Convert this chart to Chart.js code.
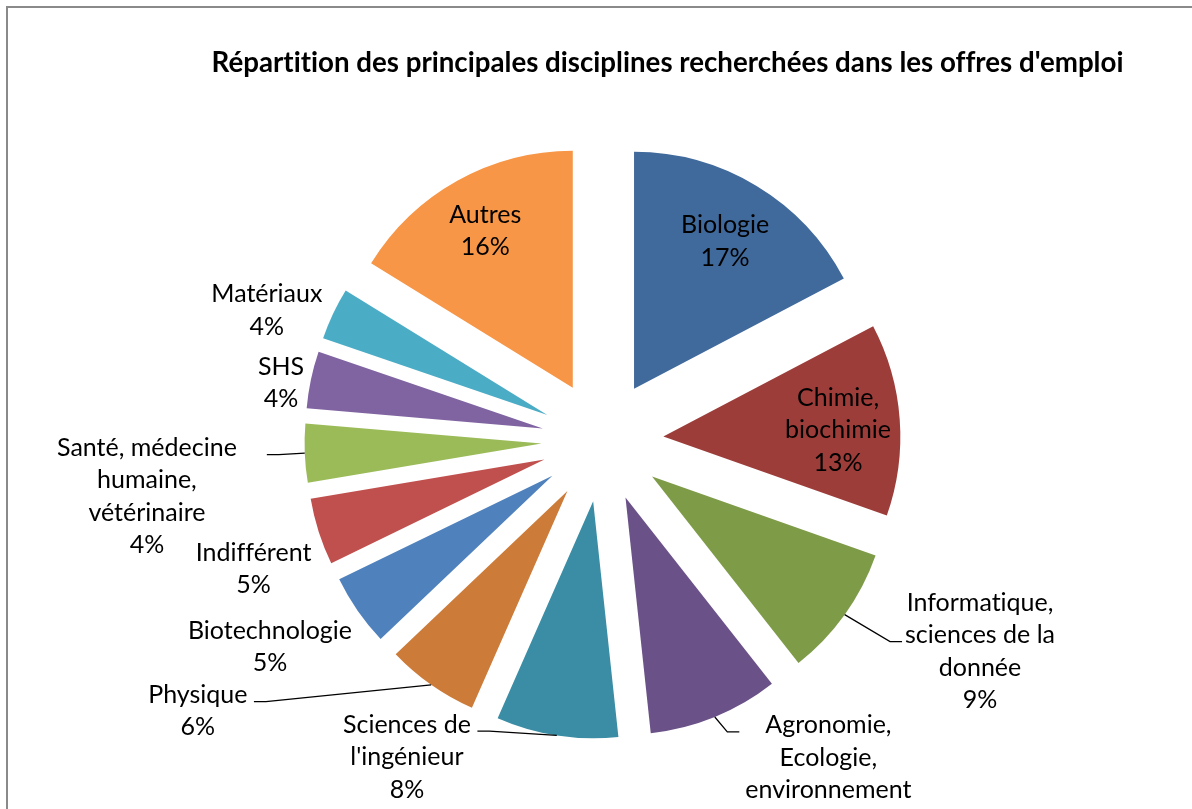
<!DOCTYPE html>
<html><head><meta charset="utf-8">
<script src="https://cdn.jsdelivr.net/npm/chart.js@4.4.1/dist/chart.umd.min.js"></script>
<style>html,body{margin:0;padding:0;background:#fff;overflow:hidden}</style>
</head><body>
<canvas id="c" width="1192" height="809"></canvas>
<script>
// ---- data ----
const titleText = "Répartition des principales disciplines recherchées dans les offres d'emploi";
const categories = [
  ["Biologie"],
  ["Chimie,", "biochimie"],
  ["Informatique,", "sciences de la", "donnée"],
  ["Agronomie,", "Ecologie,", "environnement"],
  ["Sciences de", "l'ingénieur"],
  ["Physique"],
  ["Biotechnologie"],
  ["Indifférent"],
  ["Santé, médecine", "humaine,", "vétérinaire"],
  ["SHS"],
  ["Matériaux"],
  ["Autres"]
];
const shares = [17.3, 13.1, 9.0, 8.9, 8.3, 6.3, 4.9, 4.55, 4.0, 3.9, 3.55, 16.2];

// ---- styles ----
const sliceColors = ["#40699C", "#9D3D3A", "#7E9B48", "#6A5187", "#3A8DA4", "#CD7B38",
                     "#4F81BD", "#C0504D", "#9BBB59", "#8064A2", "#4BACC6", "#F79646"];
const explodePx = 61;
const pieRadius = 237;
const labelFont = "Lato";
const labelSize = 25;
const lineGap = 32.6;
const titleSize = 27.7;
// label placement: [radius factor, angle shift in degrees] relative to slice bisector
const labelPlacement = [
  [0.992, 0.3], [0.995, 1.3], [1.822, -6.6], [1.694, -12.1], [1.565, 23.0], [2.050, 21.3],
  [1.648, 3.1], [1.567, -2.3], [1.936, -4.5], [1.379, -1.5], [1.521, -3.9], [1.019, 0.1]
];
// leader lines: side of label block (-1 left, 1 right), vertical offset from block centre, gap from text
const leaderLayout = [null, null, {side: -1, dy: -9, gap: 3}, {side: -1, dy: -41, gap: 6},
  {side: 1, dy: -25, gap: 6.5}, {side: 1, dy: -8.3, gap: 6.5}, null, null,
  {side: 1, dy: -41, gap: 30}, null, null, null];
const elbowLen = 12;

const frame = {
  id: 'frame',
  beforeDraw(chart) {
    const ctx = chart.ctx;
    ctx.save();
    ctx.fillStyle = '#fff';
    ctx.fillRect(0, 0, chart.width, chart.height);
    ctx.strokeStyle = '#8a8a8a';
    ctx.lineWidth = 2;
    ctx.strokeRect(7, 7, chart.width + 10, chart.height + 10);
    ctx.restore();
  },
  afterDraw(chart) {
    const ctx = chart.ctx;
    ctx.save();
    ctx.textRendering = 'optimizeSpeed';
    ctx.font = `bold ${titleSize}px ${labelFont}`;
    ctx.fillStyle = '#000';
    ctx.textAlign = 'center';
    ctx.textBaseline = 'alphabetic';
    ctx.fillText(titleText, 667.5, 71.7);
    ctx.restore();
  }
};

const explode = {
  id: 'explode',
  afterUpdate(chart) {
    chart.getDatasetMeta(0).data.forEach(arc => {
      if (arc._exploded) return;
      arc._exploded = true;
      const base = Object.getPrototypeOf(arc).draw;
      arc.draw = function (ctx, area) {
        const mid = (this.startAngle + this.endAngle) / 2;
        ctx.save();
        ctx.translate(Math.cos(mid) * explodePx, Math.sin(mid) * explodePx);
        base.call(this, ctx, area);
        ctx.restore();
      };
    });
  }
};

const sliceLabels = {
  id: 'sliceLabels',
  afterDatasetsDraw(chart) {
    const ctx = chart.ctx;
    const meta = chart.getDatasetMeta(0);
    const total = shares.reduce((a, b) => a + b, 0);
    const capHalf = 0.358 * labelSize;
    ctx.save();
    ctx.textRendering = 'optimizeSpeed';
    ctx.font = `${labelSize}px ${labelFont}`;
    ctx.fillStyle = '#000';
    ctx.strokeStyle = '#000';
    ctx.lineWidth = 1.25;
    ctx.textAlign = 'center';
    ctx.textBaseline = 'alphabetic';
    meta.data.forEach((arc, i) => {
      const p = arc.getProps(['x', 'y', 'startAngle', 'endAngle', 'outerRadius'], true);
      const mid = (p.startAngle + p.endAngle) / 2;
      const R = p.outerRadius;
      const [f, sh] = labelPlacement[i];
      const th = mid + sh * Math.PI / 180;
      const cx = p.x + Math.cos(th) * f * R;
      const cy = p.y + Math.sin(th) * f * R;
      const lines = [...categories[i], Math.round(shares[i] / total * 100) + '%'];
      const n = lines.length;
      let maxW = 0;
      lines.forEach((t, k) => {
        maxW = Math.max(maxW, ctx.measureText(t).width);
        const ly = cy + (k - (n - 1) / 2) * lineGap;
        ctx.fillText(t, cx, ly + capHalf);
      });
      const ld = leaderLayout[i];
      if (ld) {
        const tx = cx + ld.side * (maxW / 2 + ld.gap);
        const ty = cy + ld.dy;
        const ex = tx + ld.side * elbowLen;
        const px = p.x + Math.cos(mid) * (explodePx + R);
        const py = p.y + Math.sin(mid) * (explodePx + R);
        ctx.beginPath();
        ctx.moveTo(tx, ty);
        ctx.lineTo(ex, ty);
        ctx.lineTo(px, py);
        ctx.stroke();
      }
    });
    ctx.restore();
  }
};

new Chart(document.getElementById('c'), {
  type: 'pie',
  data: {
    labels: categories,
    datasets: [{
      data: shares,
      backgroundColor: sliceColors,
      borderWidth: 0,
      radius: pieRadius
    }]
  },
  options: {
    responsive: false,
    animation: false,
    events: [],
    layout: {padding: {left: 13, right: 0, top: 73, bottom: 0}},
    plugins: {
      legend: {display: false},
      title: {display: false},
      tooltip: {enabled: false}
    }
  },
  plugins: [frame, explode, sliceLabels]
});
</script>
</body></html>
